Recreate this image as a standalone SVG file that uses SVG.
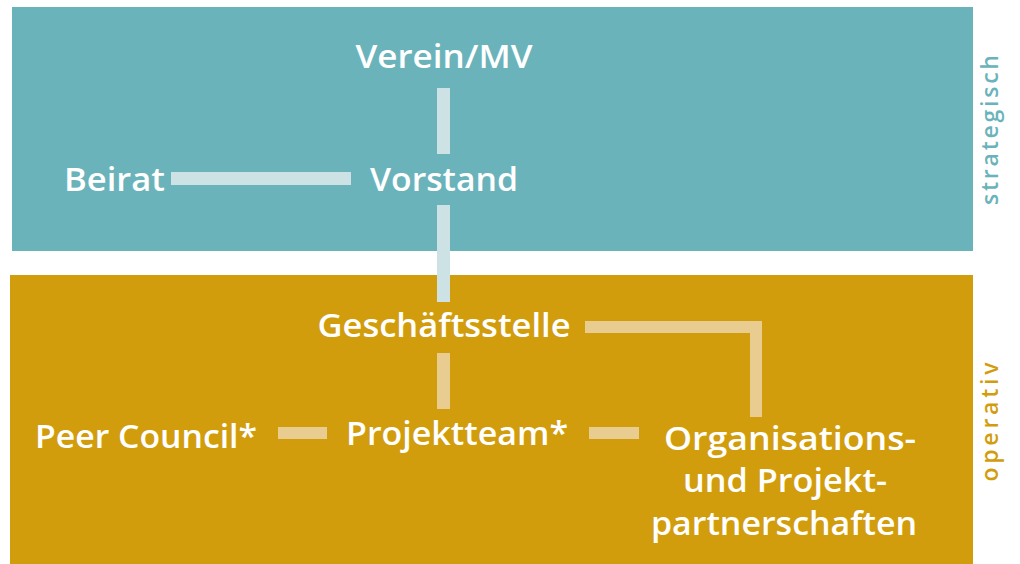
<svg xmlns="http://www.w3.org/2000/svg" width="1020" height="564" viewBox="0 0 1020 564">
<style>
.lbl{font-family:"Open Sans","Noto Sans",sans-serif;font-weight:600;font-size:32px;fill:#ffffff;text-anchor:middle}
.side{font-family:"Open Sans","Noto Sans",sans-serif;font-weight:600;font-size:23px;text-anchor:middle}
.cb{fill:#cde2e5}
.cg{fill:#e9cc8f}
</style>
<rect width="1020" height="564" fill="#ffffff"/>
<g id="zone-strategisch">
<rect x="12" y="7" width="961" height="244" fill="#6bb3ba"/>
<text class="side" fill="#6bb3ba" transform="translate(998,130) rotate(-90)" textLength="150" lengthAdjust="spacing">strategisch</text>
</g>
<g id="zone-operativ">
<rect x="10" y="275" width="963" height="289" fill="#d29d0c"/>
<text class="side" fill="#d29d0c" transform="translate(998,422) rotate(-90)" textLength="119" lengthAdjust="spacing">operativ</text>
</g>
<g id="connectors">
<rect class="cb" x="437" y="88" width="13" height="66"/>
<rect class="cb" x="171" y="172" width="180" height="13"/>
<rect class="cb" x="437" y="205" width="13" height="97"/>
<rect class="cg" x="437" y="353" width="13" height="56"/>
<path class="cg" d="M585 321 H762 V417 H750 V333 H585 Z"/>
<rect class="cg" x="278" y="427" width="49" height="12"/>
<rect class="cg" x="589" y="427" width="50" height="12"/>
</g>
<g id="node-verein"><text class="lbl" x="444" y="68" textLength="177" lengthAdjust="spacingAndGlyphs">Verein/MV</text></g>
<g id="node-beirat"><text class="lbl" x="114.5" y="191" textLength="101" lengthAdjust="spacingAndGlyphs">Beirat</text></g>
<g id="node-vorstand"><text class="lbl" x="444" y="191" textLength="148" lengthAdjust="spacingAndGlyphs">Vorstand</text></g>
<g id="node-geschaeftsstelle"><text class="lbl" x="444" y="337" textLength="253" lengthAdjust="spacingAndGlyphs">Geschäftsstelle</text></g>
<g id="node-peer-council"><text class="lbl" x="146" y="448" textLength="222" lengthAdjust="spacingAndGlyphs">Peer Council*</text></g>
<g id="node-projektteam"><text class="lbl" x="457" y="445" textLength="222" lengthAdjust="spacingAndGlyphs">Projektteam*</text></g>
<g id="node-partnerschaften">
<text class="lbl" x="790" y="450" textLength="252" lengthAdjust="spacingAndGlyphs">Organisations-</text>
<text class="lbl" x="785" y="492" textLength="204" lengthAdjust="spacingAndGlyphs">und Projekt-</text>
<text class="lbl" x="784" y="535" textLength="266" lengthAdjust="spacingAndGlyphs">partnerschaften</text>
</g>
</svg>
